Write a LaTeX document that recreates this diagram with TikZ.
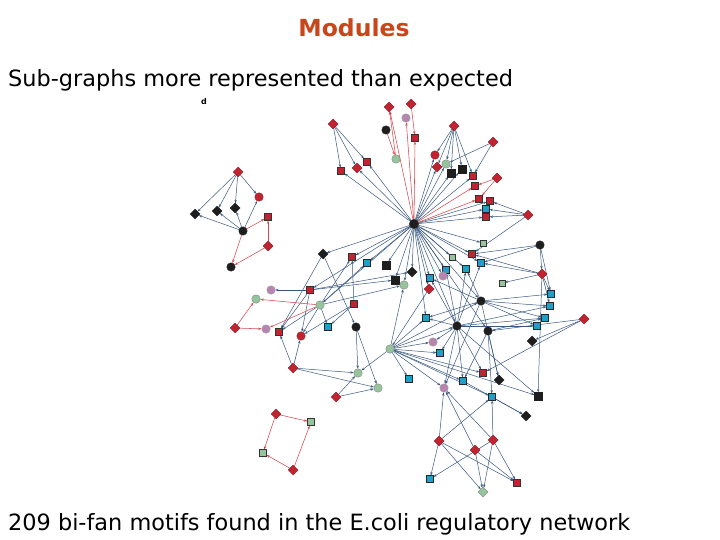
\documentclass[tikz,border=0pt]{standalone}
\usepackage{fontspec}
\setmainfont{DejaVu Sans}
\usetikzlibrary{shapes.geometric,arrows.meta,backgrounds}
\definecolor{cred}{RGB}{192,36,48}
\definecolor{cblk}{RGB}{30,30,30}
\definecolor{ccyan}{RGB}{30,160,200}
\definecolor{cgrn}{RGB}{150,196,156}
\definecolor{cpur}{RGB}{184,132,176}
\definecolor{eblue}{RGB}{58,88,128}
\definecolor{ered}{RGB}{214,74,80}
\definecolor{ctitle}{RGB}{200,70,25}
\tikzset{
 nd/.style={inner sep=0pt, outer sep=0pt, line width=0.35pt},
 rd/.style={nd, diamond, fill=cred, draw=cred!70!black, minimum size=10pt},
 rc/.style={nd, circle, fill=cred, draw=cred!70!black, minimum size=8.5pt},
 rs/.style={nd, rectangle, fill=cred, draw=black!80, minimum size=7pt},
 kd/.style={nd, diamond, fill=cblk, draw=cblk, minimum size=10pt},
 kc/.style={nd, circle, fill=cblk, draw=cblk, minimum size=8.5pt},
 ks/.style={nd, rectangle, fill=cblk, draw=cblk, minimum size=7.5pt},
 cs/.style={nd, rectangle, fill=ccyan, draw=black!85, minimum size=7pt},
 gc/.style={nd, circle, fill=cgrn, draw=black!50, minimum size=8.5pt},
 gs/.style={nd, rectangle, fill=cgrn, draw=black!80, minimum size=6.5pt},
 gd/.style={nd, diamond, fill=cgrn, draw=black!50, minimum size=10pt},
 pc/.style={nd, circle, fill=cpur, draw=black!40, minimum size=8.5pt},
 ed/.style={draw=eblue, line width=0.5pt, -{Stealth[length=3.4pt,width=2.4pt]}},
 er/.style={draw=ered, line width=0.55pt, -{Stealth[length=3.4pt,width=2.4pt]}},
 txt/.style={inner sep=0pt, anchor=base west, font=\fontsize{22.4}{26}\selectfont},
}
\begin{document}
\begin{tikzpicture}[x=1pt,y=-1pt]
\useasboundingbox (0,0) rectangle (720,540);
% texts
\node[inner sep=0pt, anchor=base, text=ctitle, font=\bfseries\fontsize{23.5}{28}\selectfont] (title) at (354,37) {Modules};
\node[txt] (sub) at (8,87) {Sub-graphs more represented than expected};
\node[txt] (foot) at (8,530) {209 bi-fan motifs found in the E.coli regulatory network};
\node[inner sep=0pt, font=\bfseries\fontsize{8}{9}\selectfont] (dlab) at (204,102) {d};
% top-left module
\node[rd] (a1) at (238,172) {};
\node[rc] (a2) at (259,197) {};
\node[kd] (a3) at (195,214) {};
\node[kd] (a4) at (217,211) {};
\node[kd] (a5) at (235,208) {};
\node[rs] (a6) at (268,217) {};
\node[kc] (a7) at (243,231) {};
\node[rd] (a8) at (268,246) {};
\node[kc] (a9) at (231,267) {};
% top
\node[kc, minimum size=9.5pt] (hub) at (414,224) {};
\node[rd] (t1) at (333,124) {};
\node[rs] (t2) at (341,171) {};
\node[rd] (t3) at (357,168) {};
\node[rs] (t4) at (367,162) {};
\node[rd] (t5) at (389,107) {};
\node[kc] (t6) at (386,130) {};
\node[pc] (t7) at (406,118) {};
\node[rd] (t8) at (411,104) {};
\node[rs] (t9) at (415,138) {};
\node[gc] (t10) at (396,159) {};
\node[rd] (t11) at (454,126) {};
\node[rc] (t12) at (435,155) {};
\node[rd] (t13) at (437,167) {};
\node[gc] (t14) at (446,164) {};
\node[ks] (t15) at (451,173) {};
\node[ks] (t16) at (462,169) {};
\node[rs] (t17) at (473,176) {};
\node[rd] (t18) at (493,142) {};
\node[rd] (t19) at (497,178) {};
\node[rs] (t20) at (475,186) {};
\node[rs] (t21) at (479,199) {};
\node[rs] (t22) at (490,201) {};
\node[cs] (t23) at (486,209) {};
\node[rs] (t24) at (486,217) {};
\node[rd] (t25) at (528,215) {};
\node[gs, minimum size=5.5pt] (t26) at (483,243) {};
\node[kc] (t27) at (540,245) {};
% middle
\node[kd] (m1) at (323,254) {};
\node[rs] (m2) at (352,257) {};
\node[cs] (m3) at (367,263) {};
\node[ks] (m4) at (386,265) {};
\node[kd] (m5) at (412,272) {};
\node[ks] (m6) at (395,280) {};
\node[gc] (m7) at (404,285) {};
\node[pc] (m8) at (271,290) {};
\node[rs] (m9) at (310,290) {};
\node[gc] (m10) at (256,299) {};
\node[gc] (m11) at (320,305) {};
\node[rs] (m12) at (354,304) {};
\node[rd] (m13) at (235,328) {};
\node[pc] (m14) at (266,329) {};
\node[rs] (m15) at (279,332) {};
\node[rc] (m16) at (301,336) {};
\node[cs] (m17) at (328,327) {};
\node[kc] (m18) at (356,327) {};
\node[gc] (m19) at (390,349) {};
\node[cs] (m20) at (409,379) {};
\node[rd] (m21) at (293,368) {};
\node[gc] (m22) at (358,373) {};
\node[gc] (m23) at (378,388) {};
\node[rd] (m24) at (336,397) {};
% right middle
\node[rs] (r1) at (472,254) {};
\node[gs, minimum size=5.5pt] (r2) at (452,257) {};
\node[cs] (r3) at (481,263) {};
\node[cs] (r4) at (446,270) {};
\node[cs] (r5) at (466,269) {};
\node[rd] (r6) at (542,274) {};
\node[cs] (r7) at (430,278) {};
\node[pc] (r8) at (443,276) {};
\node[gs, minimum size=5.5pt] (r9) at (502,283) {};
\node[rd] (r10) at (429,289) {};
\node[cs] (r11) at (551,294) {};
\node[kc] (r12) at (481,301) {};
\node[cs] (r13) at (550,306) {};
\node[cs] (r14) at (426,318) {};
\node[cs] (r15) at (545,318) {};
\node[kc] (r16) at (457,326) {};
\node[cs] (r17) at (537,326) {};
\node[kc] (r18) at (488,331) {};
\node[rd] (r19) at (584,319) {};
\node[kd] (r20) at (532,341) {};
\node[pc] (r21) at (433,342) {};
\node[cs] (r22) at (440,353) {};
\node[rs] (r23) at (483,373) {};
\node[kd] (r24) at (499,380) {};
\node[cs] (r25) at (463,381) {};
\node[pc] (r26) at (444,388) {};
\node[ks] (r27) at (538,396) {};
\node[cs] (r28) at (492,397) {};
% bottom right
\node[kd] (b1) at (526,416) {};
\node[rd] (b2) at (439,441) {};
\node[rd] (b3) at (493,440) {};
\node[rd] (b4) at (475,450) {};
\node[cs] (b5) at (430,479) {};
\node[rs] (b6) at (517,483) {};
\node[gd] (b7) at (483,492) {};
% bottom left module
\node[rd] (c1) at (276,414) {};
\node[gs, minimum size=7pt] (c2) at (311,422) {};
\node[gs, minimum size=7pt] (c3) at (263,453) {};
\node[rd] (c4) at (293,470) {};
\begin{pgfonlayer}{background}
\foreach \a/\b in {a1/a3,a1/a4,a1/a5,a1/a2,a7/a3,a7/a4,a7/a5,a7/a2,
 t1/t2,t1/t3,t1/t4,hub/t2,hub/t4,hub/t3,
 t11/t12,t11/t13,t11/t14,t11/t15,t11/t16,t11/t17,
 hub/t12,hub/t13,hub/t14,hub/t15,hub/t16,hub/t17,t18/t14,t18/t17,
 t25/t22,t25/t23,t25/t24,hub/t22,hub/t23,hub/t24,t25/r1,hub/t26,
 t27/r1,t27/r3,t27/r6,t27/r11,
 hub/m1,hub/m2,hub/m3,hub/m4,hub/m5,hub/m6,hub/m7,hub/r1,hub/r2,hub/r3,hub/r4,hub/r5,
 hub/r7,hub/r8,hub/r10,hub/r16,hub/r12,hub/r18,hub/m11,hub/m9,hub/r14,
 m9/m8,m9/m15,m9/m16,m11/m15,m11/m16,
 m21/m15,m21/m16,m21/m22,m21/m23,m24/m22,m24/m23,m18/m22,m18/m23,
 m1/m18,m1/m15,m11/m17,m11/m2,m11/m3,m9/m5,m12/m2,m12/m17,m12/m16,m9/m6,m11/m7,
 m19/m20,m19/m22,m19/r14,m19/r21,m19/r22,m19/r23,m19/r27,m19/r28,m19/r26,m19/r25,
 m19/r16,m19/r12,m19/m7,r10/m19,
 r6/r9,r6/r3,r6/r1,r6/r11,r6/r13,r6/r27,
 r12/r11,r12/r13,r12/r15,r12/r17,r12/r14,r12/r5,r12/r7,r12/r24,r12/r26,
 r16/r14,r16/r21,r16/r22,r16/r7,r16/r4,r16/r5,r16/r3,r16/r15,r16/r17,r16/r13,
 r16/r26,r16/r25,r16/r23,r16/r27,
 r18/r24,r18/r28,r18/r25,r18/r15,
 r19/r20,r19/r18,r19/r23,
 r25/b1,r28/b1,
 b2/r26,b2/r28,b2/b5,b2/b7,b2/b6,b4/r26,b4/b7,b4/b6,b3/r26,b3/r28,b3/b7,b3/b6,b3/b5}
 \draw[ed] (\a) -- (\b);
\foreach \a/\b in {a7/a6,a8/a6,a7/a9,a8/a9,
 hub/t5,t10/t5,t6/t10,hub/t9,t8/t9,hub/t7,
 hub/t20,hub/t21,t19/t20,t19/t21,
 m11/m10,m11/m14,m13/m10,m13/m14,
 c1/c2,c1/c3,c4/c2,c4/c3}
 \draw[er] (\a) -- (\b);
\end{pgfonlayer}
\end{tikzpicture}
\end{document}
